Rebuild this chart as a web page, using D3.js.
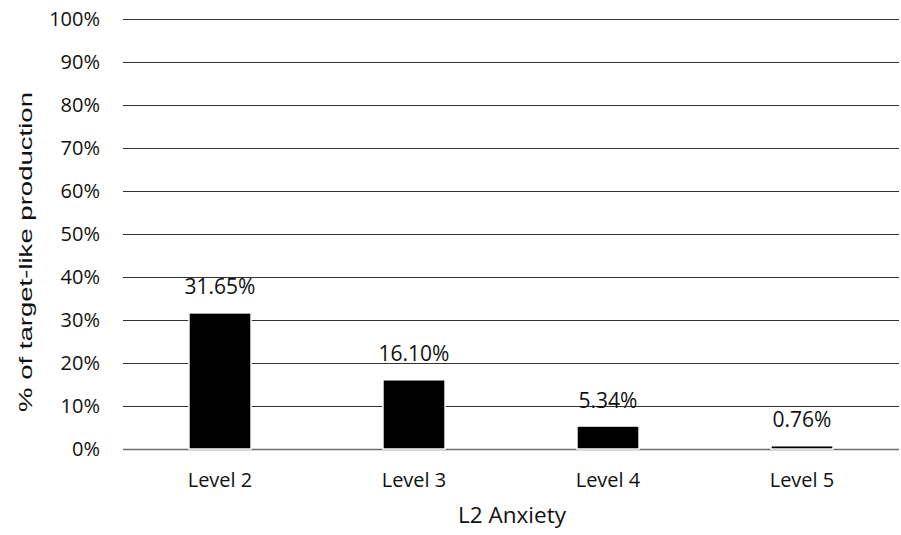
<!DOCTYPE html>
<html>
<head>
<meta charset="utf-8">
<script src="https://cdn.jsdelivr.net/npm/d3@7"></script>
<style>
  html, body { margin: 0; padding: 0; background: #fff; }
  svg text { font-family: "Open Sans", Lato, "Liberation Sans", sans-serif; fill: #111; }
  svg text.ytitle { font-family: "Liberation Sans", Arial, sans-serif; }
</style>
</head>
<body>
<svg id="chart" width="901" height="535"></svg>
<script>
const categories = ["Level 2", "Level 3", "Level 4", "Level 5"];
const values = [31.65, 16.10, 5.34, 0.76];
const valueLabels = ["31.65%", "16.10%", "5.34%", "0.76%"];
const yTicks = [0, 10, 20, 30, 40, 50, 60, 70, 80, 90, 100];

const svg = d3.select("#chart");
const margin = { left: 123, right: 2, top: 19, bottom: 86 };
const width = 901, height = 535;

const x = d3.scaleBand()
  .domain(categories)
  .range([margin.left, width - margin.right])
  .paddingInner(0.68)
  .paddingOuter(0.34);

const y = d3.scaleLinear()
  .domain([0, 100])
  .range([height - margin.bottom, margin.top]);

// horizontal gridlines
svg.append("g")
  .selectAll("line")
  .data(yTicks)
  .join("line")
  .attr("x1", margin.left)
  .attr("x2", width - margin.right)
  .attr("y1", d => Math.round(y(d)) + 0.5)
  .attr("y2", d => Math.round(y(d)) + 0.5)
  .attr("stroke", d => d === 0 ? "#6b6b6b" : "#333")
  .attr("stroke-width", d => d === 0 ? 1.6 : 1);

// y tick labels
svg.append("g")
  .selectAll("text")
  .data(yTicks)
  .join("text")
  .attr("x", 100)
  .attr("y", d => y(d))
  .attr("dy", "0.36em")
  .attr("text-anchor", "end")
  .attr("font-size", 20)
  .text(d => d + "%");

// bars
svg.append("g")
  .selectAll("rect")
  .data(categories)
  .join("rect")
  .attr("x", d => x(d))
  .attr("width", x.bandwidth())
  .attr("y", (d, i) => y(values[i]))
  .attr("height", (d, i) => y(0) - y(values[i]))
  .attr("fill", "#000")
  .attr("stroke", "#fff")
  .attr("stroke-width", 1.5);

// value labels
svg.append("g")
  .selectAll("text")
  .data(categories)
  .join("text")
  .attr("x", d => x(d) + x.bandwidth() / 2)
  .attr("y", (d, i) => y(values[i]) - 18.5)
  .attr("text-anchor", "middle")
  .attr("font-size", 21)
  .text((d, i) => valueLabels[i]);

// category labels
svg.append("g")
  .selectAll("text")
  .data(categories)
  .join("text")
  .attr("x", d => x(d) + x.bandwidth() / 2)
  .attr("y", 487)
  .attr("text-anchor", "middle")
  .attr("font-size", 20)
  .text(d => d);

// axis titles
svg.append("text")
  .attr("x", 512)
  .attr("y", 523)
  .attr("text-anchor", "middle")
  .attr("font-size", 22.5)
  .text("L2 Anxiety");

svg.append("text")
  .attr("class", "ytitle")
  .attr("transform", "translate(32, 252) rotate(-90)")
  .attr("text-anchor", "middle")
  .attr("font-size", 19)
  .attr("textLength", 320)
  .attr("lengthAdjust", "spacingAndGlyphs")
  .text("% of target-like production");
</script>
</body>
</html>
